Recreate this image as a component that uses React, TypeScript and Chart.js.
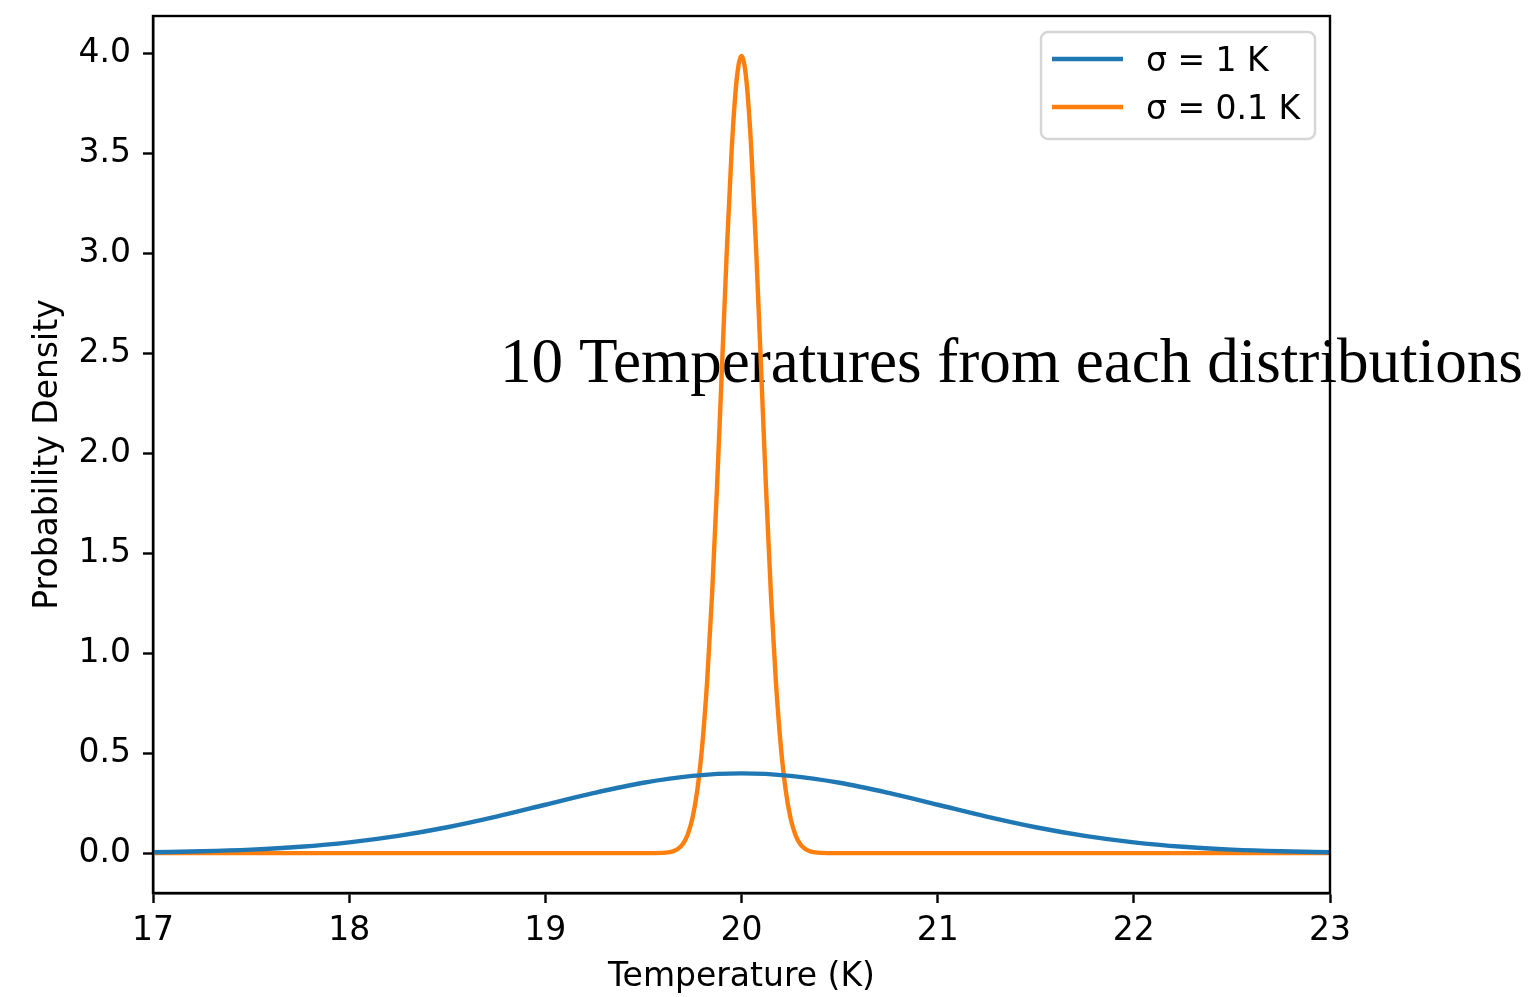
import React, { useEffect, useRef } from "react";
import { Chart, registerables } from "chart.js";

Chart.register(...registerables);

// ---- data ----
const blueLabel = "σ = 1 K";
const orangeLabel = "σ = 0.1 K";

const blueT = [17, 17.25, 17.5, 17.75, 18, 18.25, 18.5, 18.75, 19, 19.25, 19.5, 19.75, 20,
  20.25, 20.5, 20.75, 21, 21.25, 21.5, 21.75, 22, 22.25, 22.5, 22.75, 23];
const blueP = [0.0044, 0.0091, 0.0175, 0.0317, 0.054, 0.0863, 0.1295, 0.1826, 0.242, 0.3011, 0.3521, 0.3867, 0.3989,
  0.3867, 0.3521, 0.3011, 0.242, 0.1826, 0.1295, 0.0863, 0.054, 0.0317, 0.0175, 0.0091, 0.0044];

const orangeT = [17, 19.5, 19.6, 19.625, 19.65, 19.675, 19.7, 19.725, 19.75, 19.775, 19.8, 19.825, 19.85,
  19.875, 19.9, 19.925, 19.95, 19.975, 20, 20.025, 20.05, 20.075, 20.1, 20.125, 20.15, 20.175, 20.2,
  20.225, 20.25, 20.275, 20.3, 20.325, 20.35, 20.375, 20.4, 20.5, 23];
const orangeP = [0, 0, 0.0013, 0.0035, 0.0087, 0.0203, 0.0443, 0.0909, 0.175, 0.317, 0.54, 0.863, 1.295,
  1.826, 2.42, 3.011, 3.521, 3.866, 3.989, 3.866, 3.521, 3.011, 2.42, 1.826, 1.295, 0.863, 0.54,
  0.317, 0.175, 0.0909, 0.0443, 0.0203, 0.0087, 0.0035, 0.0013, 0, 0];

const xTicks = [17, 18, 19, 20, 21, 22, 23];
const yTicks = [0, 0.5, 1, 1.5, 2, 2.5, 3, 3.5, 4];
const xRange = [17, 23];
const yRange = [-0.1995, 4.1885];

const xTitle = "Temperature (K)";
const yTitle = "Probability Density";
const overlayText = "10 Temperatures from each distributions";

const BLUE = "#1f77b4";
const ORANGE = "#ff7f0e";
const SANS = "'DejaVu Sans', sans-serif";
const FS = 33;

export default function App() {
  const ref = useRef<HTMLCanvasElement>(null);

  useEffect(() => {
    document.body.style.margin = "0";
    const canvas = ref.current!;

    const overlayPlugin = {
      id: "mplDecor",
      beforeDatasetsDraw(chart: any) {
        const ctx = chart.ctx;
        ctx.save();
        let size = 66;
        ctx.font = `${size}px 'Liberation Serif', serif`;
        const w = ctx.measureText(overlayText).width;
        size = size * (1023 / w);
        ctx.font = `${size}px 'Liberation Serif', serif`;
        ctx.fillStyle = "#000";
        ctx.textAlign = "left";
        ctx.textBaseline = "alphabetic";
        ctx.fillText(overlayText, 500, 382);
        ctx.restore();
      },
      afterDatasetsDraw(chart: any) {
        const { ctx, chartArea: a } = chart;
        ctx.save();
        ctx.strokeStyle = "#000";
        ctx.lineWidth = 2.4;
        ctx.strokeRect(a.left, a.top, a.right - a.left, a.bottom - a.top);
        ctx.restore();
      },
      afterDraw(chart: any) {
        const { ctx, chartArea: a } = chart;
        ctx.save();
        // axis titles
        ctx.fillStyle = "#000";
        ctx.font = `${FS}px ${SANS}`;
        ctx.textAlign = "center";
        ctx.textBaseline = "alphabetic";
        ctx.fillText(xTitle, (a.left + a.right) / 2, 986);
        ctx.save();
        ctx.translate(57, (a.top + a.bottom) / 2);
        ctx.rotate(-Math.PI / 2);
        ctx.fillText(yTitle, 0, 0);
        ctx.restore();

        // legend
        const bx = 1041, by = 32, bw = 274, bh = 107, r = 7;
        ctx.beginPath();
        ctx.moveTo(bx + r, by);
        ctx.arcTo(bx + bw, by, bx + bw, by + bh, r);
        ctx.arcTo(bx + bw, by + bh, bx, by + bh, r);
        ctx.arcTo(bx, by + bh, bx, by, r);
        ctx.arcTo(bx, by, bx + bw, by, r);
        ctx.closePath();
        ctx.fillStyle = "rgba(255,255,255,0.8)";
        ctx.fill();
        ctx.strokeStyle = "#d6d6d6";
        ctx.lineWidth = 2.5;
        ctx.stroke();

        const items = [
          { label: chart.data.datasets[0].label, color: BLUE },
          { label: chart.data.datasets[1].label, color: ORANGE },
        ];
        items.forEach((it, i) => {
          const y = 59 + i * 48;
          ctx.strokeStyle = it.color;
          ctx.lineWidth = 4.4;
          ctx.beginPath();
          ctx.moveTo(1052, y);
          ctx.lineTo(1123, y);
          ctx.stroke();
          ctx.fillStyle = "#000";
          ctx.textAlign = "left";
          ctx.textBaseline = "alphabetic";
          ctx.font = `${FS}px ${SANS}`;
          ctx.fillText(it.label, 1146, y + 12);
        });
        ctx.restore();
      },
    };

    const chart = new Chart(canvas, {
      type: "scatter",
      data: {
        datasets: [
          {
            label: blueLabel,
            data: blueT.map((t, i) => ({ x: t, y: blueP[i] })),
            showLine: true,
            borderColor: BLUE,
            backgroundColor: BLUE,
            borderWidth: 4.4,
            pointRadius: 0,
            cubicInterpolationMode: "monotone",
          },
          {
            label: orangeLabel,
            data: orangeT.map((t, i) => ({ x: t, y: orangeP[i] })),
            showLine: true,
            borderColor: ORANGE,
            backgroundColor: ORANGE,
            borderWidth: 4.4,
            pointRadius: 0,
            cubicInterpolationMode: "monotone",
          },
        ],
      },
      options: {
        animation: false,
        responsive: false,
        maintainAspectRatio: false,
        layout: { padding: { left: 0, top: 16, right: 203, bottom: 0 } },
        plugins: {
          legend: { display: false },
          title: { display: false },
          tooltip: { enabled: false },
        },
        scales: {
          x: {
            type: "linear",
            min: xRange[0],
            max: xRange[1],
            afterBuildTicks: (s: any) => {
              s.ticks = xTicks.map((v) => ({ value: v }));
            },
            afterFit: (s: any) => {
              s.height = 104;
              s.paddingLeft = 0;
              s.paddingRight = 0;
            },
            grid: {
              drawOnChartArea: false,
              drawTicks: true,
              tickLength: 10,
              tickWidth: 2.4,
              tickColor: "#000",
            },
            border: { display: true, color: "#000", width: 2.4 },
            ticks: {
              color: "#000",
              font: { family: SANS, size: FS },
              padding: 9,
              maxRotation: 0,
              callback: (v: any) => String(v),
            },
          },
          y: {
            type: "linear",
            min: yRange[0],
            max: yRange[1],
            afterBuildTicks: (s: any) => {
              s.ticks = yTicks.map((v) => ({ value: v }));
            },
            afterFit: (s: any) => {
              s.width = 153;
              s.paddingTop = 0;
              s.paddingBottom = 0;
            },
            grid: {
              drawOnChartArea: false,
              drawTicks: true,
              tickLength: 10,
              tickWidth: 2.4,
              tickColor: "#000",
            },
            border: { display: true, color: "#000", width: 2.4 },
            ticks: {
              color: "#000",
              font: { family: SANS, size: FS },
              padding: 12,
              callback: (v: any) => Number(v).toFixed(1),
            },
          },
        },
      },
      plugins: [overlayPlugin],
    } as any);

    return () => chart.destroy();
  }, []);

  return (
    <canvas
      ref={ref}
      width={1533}
      height={997}
      style={{ display: "block", width: 1533, height: 997 }}
    />
  );
}
